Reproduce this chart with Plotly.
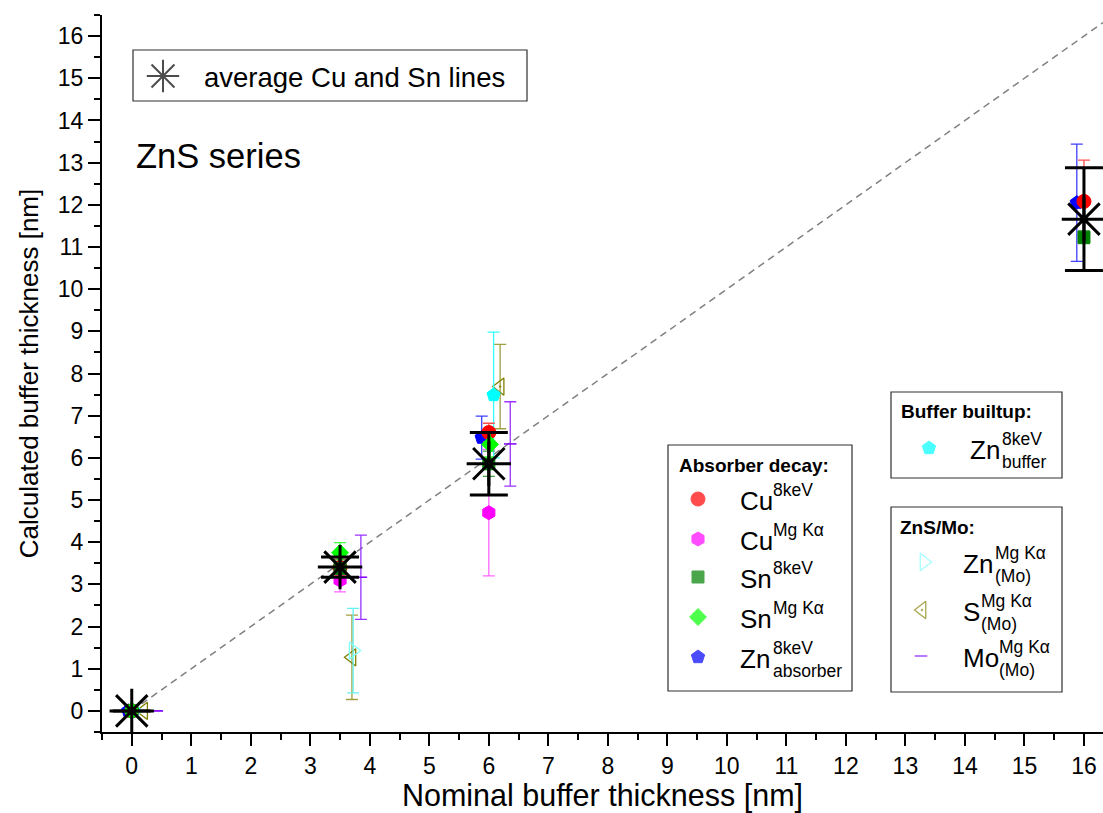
import plotly.graph_objects as go

# ---------------- data ----------------
avg_x = [0, 3.5, 6, 16]
avg_y = [0, 3.41, 5.86, 11.66]
avg_err = [0, 0.24, 0.74, 1.22]

cu8_x = [0, 3.5, 6, 16]
cu8_y = [0, 3.40, 6.60, 12.08]
cu8_err = [0, 0.20, 0.22, 0.98]

cumg_x = [0, 3.5, 6]
cumg_y = [0, 3.10, 4.70]
cumg_err = [0, 0.28, 1.50]

sn8_x = [0, 3.5, 6, 16]
sn8_y = [0, 3.38, 5.86, 11.23]
sn8_err = [0, 0.20, 0.30, 0.15]

snmg_x = [0, 3.5, 6.02]
snmg_y = [0, 3.75, 6.32]
snmg_err = [0, 0.24, 0.30]

znabs_x = [-0.06, 5.88, 15.88]
znabs_y = [0, 6.48, 12.05]
znabs_err = [0, 0.51, 1.39]

znbuf_x = [0.03, 6.08]
znbuf_y = [0, 7.49]
znbuf_err = [0, 1.49]

znmo_x = [0.05, 3.72]
znmo_y = [0, 1.43]
znmo_err = [0, 1.0]

smo_x = [0.2, 3.70, 6.19]
smo_y = [0, 1.27, 7.69]
smo_err = [0, 1.0, 1.0]

momo_x = [0.42, 3.85, 6.36]
momo_y = [0, 3.17, 6.33]
momo_err = [0, 1.0, 1.0]

x_ticks = list(range(0, 17))
y_ticks = list(range(0, 17))
ident = [0, 16.5]   # y = x reference line

FONT = "Liberation Sans, Arial, sans-serif"

# ---------------- figure geometry ----------------
W, H = 1103, 813
ML, MR, MT, MB = 102, 0, 15, 81
PW, PH = W - ML - MR, H - MT - MB


def px(xp):
    return (xp - ML) / PW


def py(yp):
    return (H - MB - yp) / PH


fig = go.Figure()

# reference diagonal
fig.add_trace(go.Scatter(x=ident, y=ident, mode="lines",
                         line=dict(color="#808080", width=1.5, dash="7px,5px"),
                         hoverinfo="skip", showlegend=False))


def series(x, y, e, symbol, color, size, ecolor, lw=1, lcolor=None):
    fig.add_trace(go.Scatter(
        x=x, y=y, mode="markers", showlegend=False, cliponaxis=False,
        marker=dict(symbol=symbol, color=color, size=size, opacity=1,
                    line=dict(width=lw, color=lcolor or color)),
        error_y=dict(type="data", array=e, visible=True, color=ecolor,
                     thickness=1.3, width=6)))


series(momo_x, momo_y, momo_err, "line-ew", "#8000FF", 9, "#9933FF", lw=1.5)
series(smo_x, smo_y, smo_err, "triangle-left-open-dot", "#808000", 15, "#A0A040", lw=1.3)
series(znmo_x, znmo_y, znmo_err, "triangle-right-open", "#80FFFF", 15, "#66F0F0", lw=1.3)
series(znbuf_x, znbuf_y, znbuf_err, "pentagon", "#00FFFF", 14, "#33FFFF", lw=1)
series(cumg_x, cumg_y, cumg_err, "hexagon", "#FF00FF", 14, "#FF66FF")
series(znabs_x, znabs_y, znabs_err, "pentagon", "#0000FF", 14, "#4040FF")
series(cu8_x, cu8_y, cu8_err, "circle", "#FF0000", 14, "#FF5050")
series(sn8_x, sn8_y, sn8_err, "square", "#008000", 12, "#40A040")
series(snmg_x, snmg_y, snmg_err, "diamond", "#00FF00", 13, "#40FF40")

# averages
fig.add_trace(go.Scatter(
    x=avg_x, y=avg_y, mode="markers", showlegend=False, cliponaxis=False,
    marker=dict(symbol="asterisk-open", size=37, color="black",
                line=dict(width=3, color="black")),
    error_y=dict(type="data", array=avg_err, visible=True, color="black",
                 thickness=3, width=19)))

# ---------------- custom legends ----------------
shapes = []
annots = []
leg_x, leg_y, leg_sym, leg_col, leg_size, leg_lw, leg_lc = [], [], [], [], [], [], []


def box(x0, y0, x1, y1):
    shapes.append(dict(type="rect", xref="paper", yref="paper",
                       x0=px(x0), x1=px(x1), y0=py(y0), y1=py(y1),
                       line=dict(color="#303030", width=1.2),
                       fillcolor="rgba(0,0,0,0)"))


def text(x, y, s, size, anchor="left"):
    annots.append(dict(xref="paper", yref="paper", x=px(x), y=py(y), text=s,
                       showarrow=False, xanchor=anchor, yanchor="middle",
                       font=dict(family=FONT, size=size, color="black")))


def entry(mx, my, sym, col, size, lw, lc, tx, main, sx, sup, sub=None):
    leg_x.append(px(mx)); leg_y.append(py(my))
    leg_sym.append(sym); leg_col.append(col); leg_size.append(size)
    leg_lw.append(lw); leg_lc.append(lc)
    yc = my + 2
    text(tx, yc, main, 26)
    text(sx, yc - 11, sup, 17.5)
    if sub:
        text(sx, yc + 12, sub, 17.5)


# box 1
box(133, 50, 527, 101)
leg_x.append(px(163)); leg_y.append(py(76)); leg_sym.append("asterisk-open")
leg_col.append("black"); leg_size.append(27); leg_lw.append(2); leg_lc.append("black")
text(202, 77, "average Cu and Sn lines", 27.5)

text(134, 156, "ZnS series", 34.5)

# box 2
box(668, 445, 852, 691)
text(677, 465, "<b>Absorber decay:</b>", 19)
entry(698, 499, "circle", "#FF0000", 14, 1, "#FF0000", 738, "Cu", 771, "8keV")
entry(698, 539, "hexagon", "#FF00FF", 14, 1, "#FF00FF", 738, "Cu", 771, "Mg K\u03b1")
entry(698, 577, "square", "#008000", 12, 1, "#008000", 738, "Sn", 771, "8keV")
entry(698, 617, "diamond", "#00FF00", 13, 1, "#00FF00", 738, "Sn", 771, "Mg K\u03b1")
entry(698, 657, "pentagon", "#0000FF", 14, 1, "#0000FF", 738, "Zn", 771, "8keV", "absorber")

# box 3
box(891, 392, 1062, 478)
text(899, 412, "<b>Buffer builtup:</b>", 19)
entry(929, 448, "pentagon", "#00FFFF", 14, 1, "#00FFFF", 968, "Zn", 1000, "8keV", "buffer")

# box 4
box(891, 507, 1062, 692)
text(898, 527, "<b>ZnS/Mo:</b>", 19)
entry(924, 562, "triangle-right-open", "#80FFFF", 15, 1.3, "#80FFFF", 961, "Zn", 993, "Mg K\u03b1", "(Mo)")
entry(922, 610, "triangle-left-open-dot", "#808000", 15, 1.3, "#808000", 961, "S", 979, "Mg K\u03b1", "(Mo)")
entry(921, 656, "line-ew", "#8000FF", 9, 1.5, "#8000FF", 961, "Mo", 997, "Mg K\u03b1", "(Mo)")

fig.add_trace(go.Scatter(
    x=leg_x, y=leg_y, xaxis="x3", yaxis="y3", mode="markers",
    showlegend=False, cliponaxis=False, hoverinfo="skip",
    marker=dict(symbol=leg_sym, color=leg_col, size=leg_size,
                line=dict(width=leg_lw, color=leg_lc))))

axis_common = dict(showline=True, linecolor="black", linewidth=2,
                   showgrid=False, zeroline=False, tickcolor="black",
                   tickwidth=2)

fig.update_layout(
    width=W, height=H,
    margin=dict(l=ML, r=MR, t=MT, b=MB, autoexpand=False),
    paper_bgcolor="white", plot_bgcolor="white",
    showlegend=False,
    font=dict(family=FONT, color="black"),
    xaxis=dict(range=[-0.5, 16.32], tickmode="array", tickvals=x_ticks,
               ticks="outside", ticklen=12,
               minor=dict(dtick=0.5, tick0=0, ticks="outside", ticklen=6,
                          tickwidth=2, tickcolor="black"),
               tickfont=dict(size=23, family=FONT),
               title=dict(text="Nominal buffer thickness [nm]",
                          font=dict(size=30.5, family=FONT), standoff=6),
               **axis_common),
    xaxis2=dict(range=[-0.5, 16.32], overlaying="x", side="top", anchor="y",
                tickmode="array", tickvals=x_ticks, ticks="inside", ticklen=11,
                showticklabels=False,
                minor=dict(dtick=0.5, tick0=0, ticks="inside", ticklen=6,
                           tickwidth=2, tickcolor="black"),
                **axis_common),
    yaxis=dict(range=[-0.5, 16.5], tickmode="array", tickvals=y_ticks,
               ticks="outside", ticklen=12,
               minor=dict(dtick=0.5, tick0=0, ticks="outside", ticklen=6,
                          tickwidth=2, tickcolor="black"),
               tickfont=dict(size=23, family=FONT),
               title=dict(text="Calculated buffer thickness [nm]",
                          font=dict(size=26, family=FONT), standoff=12),
               **axis_common),
    xaxis3=dict(range=[0, 1], overlaying="x", visible=False, anchor="y3"),
    yaxis3=dict(range=[0, 1], overlaying="y", visible=False, anchor="x3"),
    shapes=shapes,
    annotations=annots,
)

fig.write_html("out.html")
